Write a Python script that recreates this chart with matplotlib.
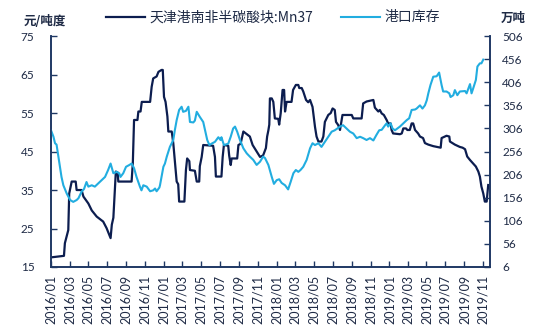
import pandas as pd
import matplotlib.pyplot as plt
import matplotlib.dates as mdates

plt.rcParams['font.family'] = ['Lato', 'Noto Sans CJK SC', 'DejaVu Sans']

# 天津港南非半碳酸块:Mn37 (元/吨度)
mn_dates = [
    "2016-01-01", "2016-02-12", "2016-02-15", "2016-02-26", "2016-02-29", "2016-03-08",
    "2016-03-21", "2016-03-24", "2016-04-09", "2016-04-15", "2016-05-01", "2016-05-12",
    "2016-05-28", "2016-06-18", "2016-06-29", "2016-07-12", "2016-07-16", "2016-07-21",
    "2016-07-26", "2016-07-29", "2016-08-04", "2016-08-06", "2016-09-18", "2016-09-22",
    "2016-09-26", "2016-10-07", "2016-10-10", "2016-10-17", "2016-10-21", "2016-11-17",
    "2016-11-22", "2016-11-27", "2016-12-08", "2016-12-14", "2016-12-24", "2016-12-28",
    "2017-01-01", "2017-01-06", "2017-01-12", "2017-01-15", "2017-01-26", "2017-01-31",
    "2017-02-11", "2017-02-16", "2017-02-19", "2017-03-08", "2017-03-13", "2017-03-17",
    "2017-03-24", "2017-03-26", "2017-04-11", "2017-04-17", "2017-04-25", "2017-04-27",
    "2017-05-03", "2017-05-08", "2017-06-09", "2017-06-15", "2017-06-18", "2017-07-06",
    "2017-07-10", "2017-07-14", "2017-07-28", "2017-07-31", "2017-08-05", "2017-08-08",
    "2017-08-26", "2017-08-30", "2017-09-06", "2017-09-15", "2017-09-26", "2017-10-06",
    "2017-10-15", "2017-10-28", "2017-11-08", "2017-11-18", "2017-11-27", "2017-12-01",
    "2017-12-05", "2017-12-08", "2017-12-10", "2017-12-16", "2017-12-21", "2017-12-26",
    "2018-01-06", "2018-01-09", "2018-01-14", "2018-01-20", "2018-01-25", "2018-01-28",
    "2018-02-02", "2018-02-18", "2018-02-23", "2018-03-04", "2018-03-12", "2018-03-15",
    "2018-03-23", "2018-03-28", "2018-04-06", "2018-04-13", "2018-04-19", "2018-04-27",
    "2018-05-05", "2018-05-10", "2018-05-16", "2018-05-26", "2018-06-01", "2018-06-06",
    "2018-06-17", "2018-06-25", "2018-07-01", "2018-07-08", "2018-07-12", "2018-07-19",
    "2018-07-25", "2018-08-02", "2018-09-01", "2018-09-06", "2018-10-03", "2018-10-08",
    "2018-10-19", "2018-10-30", "2018-11-10", "2018-11-15", "2018-11-26", "2018-12-01",
    "2018-12-07", "2018-12-14", "2018-12-23", "2018-12-28", "2019-01-05", "2019-01-08",
    "2019-01-13", "2019-02-04", "2019-02-10", "2019-02-15", "2019-02-24", "2019-02-28",
    "2019-03-08", "2019-03-14", "2019-03-19", "2019-03-25", "2019-04-04", "2019-04-10",
    "2019-04-20", "2019-04-26", "2019-05-07", "2019-05-23", "2019-06-16", "2019-06-19",
    "2019-07-05", "2019-07-14", "2019-07-16", "2019-08-01", "2019-08-17", "2019-08-26",
    "2019-09-03", "2019-09-10", "2019-09-19", "2019-09-29", "2019-10-08", "2019-10-16",
    "2019-10-21", "2019-10-26", "2019-11-01", "2019-11-06", "2019-11-12", "2019-11-17",
]
mn_price = [
    17.5, 17.9, 21.2, 24.6, 34.1, 37.2,
    37.2, 35.0, 35.0, 33.3, 31.5, 29.7,
    28.1, 26.8, 25.1, 22.5, 26.0, 27.8,
    35.0, 39.8, 39.5, 37.2, 37.2, 42.0,
    53.2, 53.2, 55.4, 55.4, 57.9, 57.9,
    61.8, 64.0, 64.5, 65.7, 66.2, 66.2,
    59.2, 57.9, 54.1, 50.2, 50.2, 47.2,
    37.2, 36.5, 32.0, 32.0, 40.2, 43.2,
    42.5, 40.2, 40.0, 37.2, 37.2, 41.2,
    43.6, 46.7, 46.5, 43.6, 38.5, 38.5,
    43.6, 46.7, 46.5, 44.0, 41.5, 43.2,
    43.2, 46.7, 47.0, 50.2, 49.5, 48.9,
    46.7, 45.0, 43.6, 44.0, 45.9, 48.9,
    50.5, 52.0, 58.8, 58.8, 57.9, 53.6,
    53.5, 52.0, 55.0, 61.0, 61.0, 55.4,
    57.9, 57.9, 61.0, 62.3, 62.3, 61.5,
    61.5, 60.6, 58.4, 57.8, 58.4, 56.6,
    51.4, 48.9, 47.6, 47.6, 48.9, 52.7,
    54.5, 55.0, 56.2, 55.8, 52.7, 51.9,
    50.6, 54.5, 54.5, 53.6, 53.6, 57.5,
    58.0, 58.2, 58.4, 56.4, 55.4, 55.8,
    54.9, 54.5, 53.2, 52.3, 52.3, 50.6,
    49.7, 49.5, 49.7, 51.0, 51.0, 50.6,
    50.6, 52.3, 52.3, 50.6, 49.7, 48.9,
    48.5, 47.2, 46.8, 46.4, 46.0, 48.5,
    49.1, 48.9, 47.6, 46.8, 46.2, 46.0,
    45.6, 43.7, 42.8, 41.9, 41.1, 39.8,
    38.5, 35.9, 34.1, 32.0, 32.0, 36.3,
]

# 港口库存 (万吨)
stock_dates = [
    "2016-01-01", "2016-01-09", "2016-01-14", "2016-01-19", "2016-01-25", "2016-01-30",
    "2016-02-04", "2016-02-10", "2016-02-21", "2016-03-03", "2016-03-13", "2016-03-24",
    "2016-03-30", "2016-04-09", "2016-04-17", "2016-04-25", "2016-05-01", "2016-05-12",
    "2016-05-22", "2016-06-02", "2016-06-13", "2016-06-24", "2016-07-04", "2016-07-12",
    "2016-07-21", "2016-08-01", "2016-08-09", "2016-08-13", "2016-08-22", "2016-08-31",
    "2016-09-11", "2016-09-18", "2016-09-26", "2016-10-04", "2016-10-15", "2016-10-20",
    "2016-10-26", "2016-11-06", "2016-11-17", "2016-11-27", "2016-12-03", "2016-12-08",
    "2016-12-17", "2016-12-19", "2016-12-24", "2016-12-30", "2017-01-04", "2017-01-10",
    "2017-01-20", "2017-01-31", "2017-02-05", "2017-02-11", "2017-02-19", "2017-02-27",
    "2017-03-04", "2017-03-13", "2017-03-21", "2017-03-26", "2017-04-06", "2017-04-11",
    "2017-04-17", "2017-04-27", "2017-05-08", "2017-05-14", "2017-05-21", "2017-05-28",
    "2017-06-04", "2017-06-15", "2017-06-26", "2017-07-03", "2017-07-06", "2017-07-14",
    "2017-07-23", "2017-07-28", "2017-08-05", "2017-08-13", "2017-08-19", "2017-08-26",
    "2017-09-04", "2017-09-15", "2017-09-26", "2017-10-06", "2017-10-17", "2017-10-28",
    "2017-11-08", "2017-11-18", "2017-11-24", "2017-12-05", "2017-12-16", "2017-12-23",
    "2018-01-01", "2018-01-09", "2018-01-17", "2018-01-28", "2018-02-07", "2018-02-15",
    "2018-02-24", "2018-03-04", "2018-03-12", "2018-03-19", "2018-03-28", "2018-04-08",
    "2018-04-19", "2018-04-27", "2018-05-05", "2018-05-16", "2018-05-26", "2018-06-06",
    "2018-06-17", "2018-06-28", "2018-07-08", "2018-07-25", "2018-08-04", "2018-08-15",
    "2018-08-26", "2018-09-06", "2018-09-17", "2018-09-28", "2018-10-08", "2018-10-19",
    "2018-10-30", "2018-11-10", "2018-11-20", "2018-11-29", "2018-12-07", "2018-12-18",
    "2018-12-23", "2018-12-28", "2019-01-05", "2019-01-11", "2019-01-19", "2019-02-04",
    "2019-02-15", "2019-02-26", "2019-03-06", "2019-03-14", "2019-03-25", "2019-03-30",
    "2019-04-10", "2019-04-18", "2019-04-26", "2019-05-02", "2019-05-07", "2019-05-14",
    "2019-05-23", "2019-06-03", "2019-06-11", "2019-06-19", "2019-06-24", "2019-07-05",
    "2019-07-14", "2019-07-18", "2019-07-27", "2019-08-01", "2019-08-09", "2019-08-17",
    "2019-09-03", "2019-09-08", "2019-09-19", "2019-09-24", "2019-09-29", "2019-10-08",
    "2019-10-13", "2019-10-21", "2019-10-26", "2019-11-01",
]
stock = [
    302, 288, 274, 271, 245, 223,
    201, 183, 165, 151, 147, 151,
    155, 169, 175, 190, 180, 183,
    180, 187, 194, 201, 216, 230,
    209, 212, 209, 201, 209, 223,
    227, 230, 220, 201, 180, 172,
    183, 180, 170, 172, 176, 170,
    178, 183, 201, 223, 230, 245,
    266, 281, 302, 324, 346, 353,
    342, 344, 353, 320, 319, 323,
    342, 331, 320, 302, 281, 270,
    273, 277, 287, 281, 287, 270,
    272, 273, 288, 306, 310, 299,
    281, 263, 252, 245, 238, 227,
    234, 245, 242, 227, 201, 186,
    194, 196, 188, 183, 174, 190,
    209, 216, 212, 216, 223, 238,
    263, 274, 270, 274, 266, 277,
    288, 299, 302, 310, 313, 306,
    299, 295, 285, 288, 285, 281,
    285, 280, 292, 302, 303, 313,
    317, 310, 317, 306, 302, 310,
    317, 324, 328, 346, 347, 349,
    356, 349, 356, 367, 382, 400,
    418, 419, 427, 400, 386, 386,
    382, 374, 378, 389, 378, 386,
    387, 382, 402, 382, 392, 411,
    440, 447, 447, 455,
]

left_ticks = [15, 25, 35, 45, 55, 65, 75]
right_ticks = [6, 56, 106, 156, 206, 256, 306, 356, 406, 456, 506]

mn_dates = pd.to_datetime(mn_dates)
stock_dates = pd.to_datetime(stock_dates)

dark = "#0c1d4f"
cyan = "#22ade0"
axis_color = "#1f3864"
text_color = "#1e2a45"

fig = plt.figure(figsize=(5.46, 3.34), dpi=100)
ax = fig.add_axes([0.0934, 0.2006, 0.8036, 0.6914])
ax2 = ax.twinx()

l1, = ax.plot(mn_dates, mn_price, color=dark, lw=1.6, label="天津港南非半碳酸块:Mn37")
l2, = ax2.plot(stock_dates, stock, color=cyan, lw=1.5, label="港口库存")

ax.set_ylim(15, 75)
ax.set_yticks(left_ticks)
ax2.set_ylim(6, 506)
ax2.set_yticks(right_ticks)
ax.set_xlim(pd.Timestamp("2016-01-01"), pd.Timestamp("2019-11-22"))
ax.set_xticks(pd.date_range("2016-01-01", "2019-11-01", freq="2MS"))
ax.xaxis.set_major_formatter(mdates.DateFormatter("%Y/%m"))

for a in (ax, ax2):
    a.spines["top"].set_visible(False)
    for s in ("left", "right", "bottom"):
        a.spines[s].set_color(axis_color)
        a.spines[s].set_linewidth(1.2)
    a.tick_params(colors=axis_color, labelcolor=text_color, direction="in", length=4, width=1)

ax.tick_params(axis="y", labelsize=8.5, pad=12)
ax2.tick_params(axis="y", labelsize=8.5, pad=9)
ax.tick_params(axis="x", labelsize=9, pad=6, labelrotation=90)

fig.text(0.043, 0.935, "元/吨度", fontsize=9, fontweight="bold", color=text_color,
         family=["Noto Sans CJK SC"], ha="left", va="center")
fig.text(0.94, 0.945, "万吨", fontsize=9, fontweight="bold", color=text_color,
         family=["Noto Sans CJK SC"], ha="center", va="center")

fig.legend(handles=[l1, l2], loc="center", bbox_to_anchor=(0.5, 0.948), ncol=2,
           frameon=False, prop={"family": ["Noto Sans CJK SC"], "size": 10},
           handlelength=2.8, handletextpad=0.3, columnspacing=2.0, labelcolor=text_color)

fig.savefig("out.png", dpi=100)
